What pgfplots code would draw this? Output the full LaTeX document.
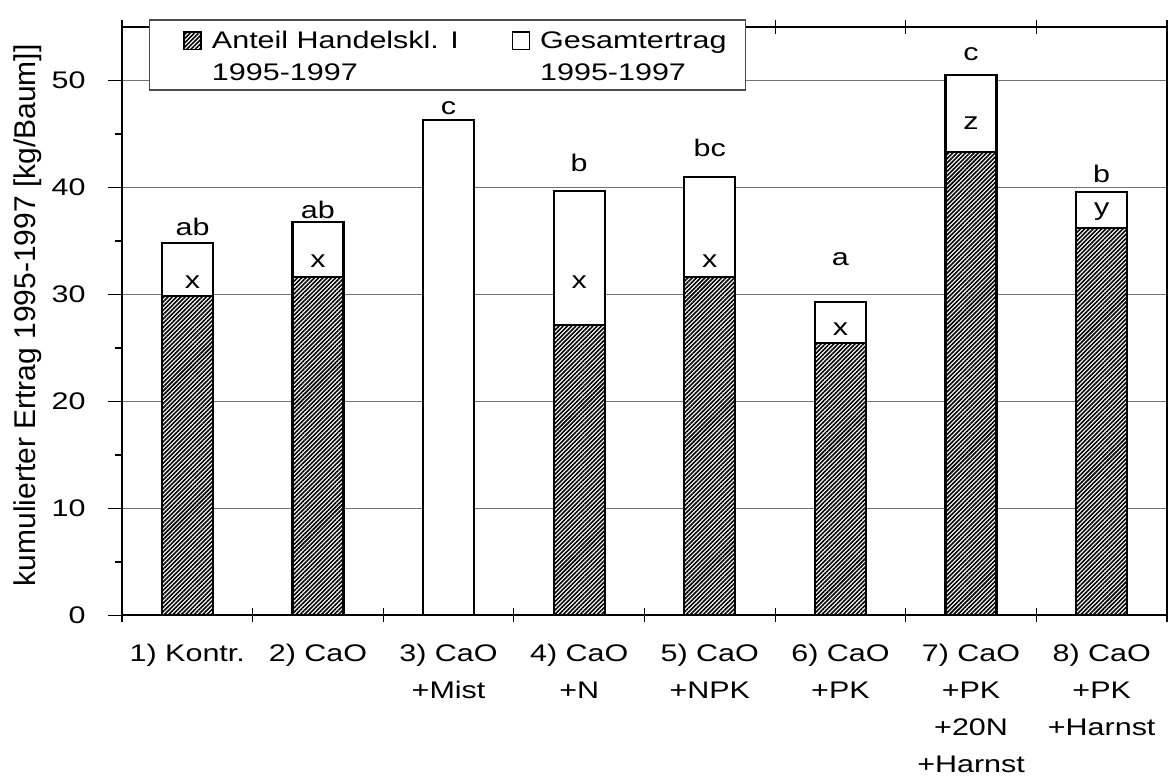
\documentclass[border=0pt]{standalone}
\usepackage{fontspec}
\setmainfont{Liberation Sans}[FakeStretch=1.27]
\newfontfamily\ylabfont{Liberation Sans}
\usepackage{pgfplots}
\pgfplotsset{compat=1.18}
\usetikzlibrary{patterns.meta}
\newcommand\tfont{\fontsize{12}{18.5}\selectfont}
\newcommand\lfont{\fontsize{12}{15.8}\selectfont}
\begin{document}
\begin{tikzpicture}
\begin{axis}[
  scale only axis, width=522.5pt, height=294.25pt,
  xmin=-0.5, xmax=7.5, ymin=0, ymax=55,
  axis line style={line width=1pt, black},
  xtick={-0.5,0.5,...,7.5},
  x tick label as interval,
  xticklabels={{1) Kontr.},{2) CaO},{3) CaO\\+Mist},{4) CaO\\+N},{5) CaO\\+NPK},{6) CaO\\+PK},{7) CaO\\+PK\\+20N\\+Harnst},{8) CaO\\+PK\\+Harnst}},
  xtick align=center,
  ytick={0,10,...,50},
  major tick length=7pt,
  ytick align=outside,
  extra y ticks={5,15,25,35,45},
  extra y tick labels={},
  extra y tick style={major tick length=3.5pt, grid=none},
  tick style={black, line width=0.6pt},
  ymajorgrids, major grid style={black!55, line width=0.5pt},
  /pgf/number format/assume math mode=true,
  tick label style={font=\tfont},
  xticklabel style={align=center, anchor=north, inner sep=0pt, yshift=-10.5pt},
  yticklabel style={anchor=east, inner sep=0pt, xshift=-11pt},
  ylabel={kumulierter Ertrag 1995-1997 [kg/Baum]]},
  ylabel style={at={(rel axis cs:-0.09,0.51)}, anchor=center, inner sep=0pt, font=\ylabfont\fontsize{15}{18}\selectfont},
  legend columns=2,
  legend cell align=left,
  legend style={at={(rel axis cs:0,1)}, anchor=north west, xshift=13.5pt, yshift=3.75pt,
    draw=black!70, line width=0.6pt, fill=white, inner xsep=9.5pt, inner ysep=3.3pt, font=\lfont,
    nodes={inner sep=0pt, anchor=base west},
    /tikz/every odd column/.append style={column sep=5pt},
    /tikz/every even column/.append style={column sep=12pt}},
  legend image code/.code={\path (0pt,0pt); \draw[#1, line width=0.8pt] (7.5pt,15.5pt) rectangle (16pt,24.1pt);},
]
\coordinate (SW) at (rel axis cs:0,0);
\addplot[ybar, bar width=25.5pt, bar shift=0pt, fill=white, draw=black, line width=1.1pt, forget plot]
  coordinates {(0,34.84) (1,36.8) (2,46.3) (3,39.7) (4,41.01) (5,29.33) (6,50.5) (7,39.55)};
\addplot[ybar, bar width=25.5pt, bar shift=0pt, pattern={Lines[angle=45,distance=1.5pt,line width=0.8pt]}, draw=black, line width=1.1pt, forget plot]
  coordinates {(0,29.86) (1,31.6) (3,27.15) (4,31.66) (5,25.44) (6,43.35) (7,36.19)};
\addplot[draw=none, mark=none, forget plot, nodes near coords, point meta=explicit symbolic,
  nodes near coords style={anchor=base, font=\tfont, inner sep=0pt}]
  coordinates {(0.04,35.56)[ab] (1,37.1)[ab] (2,46.8)[c] (3,41.5)[b] (4,42.9)[bc] (5,32.75)[a] (6,51.9)[c] (7,40.5)[b]
  (0.04,30.6)[x] (1,32.5)[x] (3,30.6)[x] (4,32.5)[x] (5,26.2)[x] (6,45.4)[z] (7,37.4)[y]};
\addlegendimage{pattern={Lines[angle=45,distance=1.5pt,line width=0.8pt]}, draw=black}
\addlegendentry{\begin{tabular}[b]{@{}l@{\hspace{7pt}}}Anteil Handelskl. I\\1995-1997\end{tabular}}
\addlegendimage{fill=white, draw=black}
\addlegendentry{\begin{tabular}[b]{@{}l@{}}Gesamtertrag\\1995-1997\end{tabular}}
\end{axis}
\pgfresetboundingbox
\path[use as bounding box] ([shift={(-61pt,-81.75pt)}]SW) rectangle ++(584pt,389.5pt);
\end{tikzpicture}
\end{document}
